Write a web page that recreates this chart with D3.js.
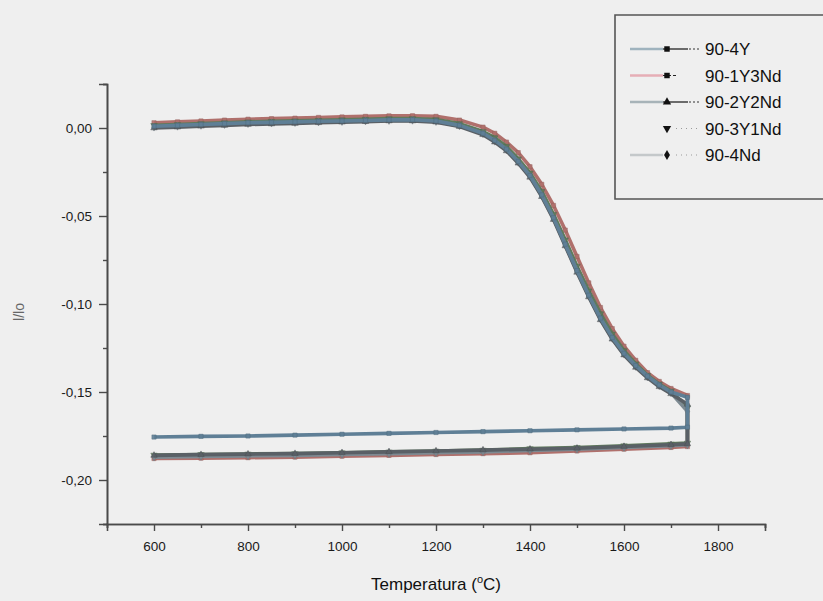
<!DOCTYPE html>
<html>
<head>
<meta charset="utf-8">
<script src="https://cdn.jsdelivr.net/npm/d3@7"></script>
<style>
  html, body { margin: 0; padding: 0; background: #efefef; }
  svg { display: block; }
  text { font-family: Arial, "Liberation Sans", sans-serif; }
</style>
</head>
<body>
<svg id="chart" width="823" height="601"></svg>
<script>
// Dilatometry: relative shrinkage l/lo vs temperature (heating then cooling)
const seriesNames = ["90-4Y", "90-1Y3Nd", "90-2Y2Nd", "90-3Y1Nd", "90-4Nd"];

// heating temperatures followed by cooling temperatures (°C)
const temps = [600, 650, 700, 750, 800, 850, 900, 950, 1000, 1050, 1100, 1150, 1200, 1250, 1300,
  1325, 1350, 1375, 1400, 1425, 1450, 1475, 1500, 1525, 1550, 1575, 1600, 1625, 1650, 1675, 1700, 1735,
  1735, 1700, 1600, 1500, 1400, 1300, 1200, 1100, 1000, 900, 800, 700, 600];

const values4Y = [0.001, 0.0015, 0.002, 0.0025, 0.003, 0.0032, 0.0035, 0.0038, 0.004, 0.0043, 0.0046, 0.0047, 0.0040, 0.0015, -0.003,
  -0.007, -0.012, -0.019, -0.027, -0.038, -0.051, -0.066, -0.081, -0.095, -0.108, -0.119, -0.128, -0.135, -0.141, -0.146, -0.150, -0.153,
  -0.170, -0.1705, -0.171, -0.1715, -0.172, -0.1725, -0.173, -0.1735, -0.174, -0.1745, -0.175, -0.1752, -0.1756];
const values1Y3Nd = [0.003, 0.0035, 0.004, 0.0045, 0.005, 0.0053, 0.0056, 0.006, 0.0063, 0.0066, 0.0069, 0.007, 0.0066, 0.0045, 0.0005,
  -0.003, -0.008, -0.014, -0.022, -0.032, -0.044, -0.058, -0.073, -0.088, -0.102, -0.114, -0.124, -0.132, -0.139, -0.144, -0.148, -0.152,
  -0.181, -0.1815, -0.1825, -0.1835, -0.1845, -0.185, -0.1855, -0.186, -0.1865, -0.187, -0.1873, -0.1876, -0.1878];
const values2Y2Nd = [0.0, 0.0005, 0.001, 0.0015, 0.002, 0.0023, 0.0026, 0.003, 0.0033, 0.0036, 0.004, 0.004, 0.0033, 0.0008, -0.0038,
  -0.008, -0.013, -0.020, -0.028, -0.039, -0.052, -0.067, -0.082, -0.096, -0.109, -0.120, -0.129, -0.136, -0.142, -0.147, -0.151, -0.157,
  -0.1795, -0.18, -0.181, -0.182, -0.1825, -0.183, -0.1835, -0.184, -0.1845, -0.185, -0.1853, -0.1856, -0.186];
const values3Y1Nd = [0.0015, 0.002, 0.0025, 0.003, 0.0035, 0.0038, 0.0041, 0.0044, 0.0047, 0.005, 0.0053, 0.0054, 0.0048, 0.0025, -0.002,
  -0.0055, -0.0105, -0.0175, -0.0255, -0.036, -0.049, -0.0635, -0.0785, -0.0925, -0.1055, -0.117, -0.1265, -0.134, -0.1405, -0.1455, -0.1495, -0.159,
  -0.179, -0.1795, -0.1805, -0.1815, -0.1822, -0.183, -0.1835, -0.184, -0.1845, -0.185, -0.1852, -0.1855, -0.1858];
const values4Nd = [0.0005, 0.001, 0.0015, 0.002, 0.0025, 0.0028, 0.0031, 0.0034, 0.0037, 0.004, 0.0043, 0.0044, 0.0037, 0.0012, -0.0033,
  -0.0075, -0.0125, -0.0195, -0.0275, -0.0385, -0.0515, -0.0665, -0.0815, -0.0955, -0.1085, -0.1195, -0.1285, -0.1355, -0.1415, -0.1465, -0.1505, -0.161,
  -0.180, -0.1805, -0.1815, -0.1825, -0.1832, -0.184, -0.1845, -0.185, -0.1855, -0.186, -0.1863, -0.1866, -0.187];

const seriesValues = [values4Y, values1Y3Nd, values2Y2Nd, values3Y1Nd, values4Nd];
const lineColors = ["#5f7f96", "#b0706c", "#5a6066", "#5f7a5c", "#7d8a92"];
const legendColors = ["#9fb3be", "#e6aeb6", "#a7b3b8", "none", "#c4c8ca"];
const symbolTypes = [d3.symbolSquare, d3.symbolSquare, d3.symbolTriangle, d3.symbolTriangle, d3.symbolDiamond];
const symbolRotate = [0, 0, 0, 180, 0];

const xMajorTicks = [600, 800, 1000, 1200, 1400, 1600, 1800];
const xMinorTicks = [500, 700, 900, 1100, 1300, 1500, 1700, 1900];
const yMajorTicks = [0.0, -0.05, -0.10, -0.15, -0.20];
const yMinorTicks = [0.025, -0.025, -0.075, -0.125, -0.175, -0.225];

const svg = d3.select("#chart");
const x = d3.scaleLinear().domain([500, 1900]).range([107, 765]);
const y = d3.scaleLinear().domain([-0.225, 0.025]).range([524, 84]);
const fmt = v => d3.format(".2f")(v).replace(".", ",").replace("−", "-");

// axes
const axisColor = "#4a4a4a";
const yAxisG = svg.append("g").attr("transform", "translate(107,0)");
yAxisG.call(d3.axisLeft(y).tickValues(yMajorTicks).tickSize(8).tickPadding(7).tickFormat(fmt));
yAxisG.append("g").call(d3.axisLeft(y).tickValues(yMinorTicks).tickSize(4).tickFormat(""));
const xAxisG = svg.append("g").attr("transform", "translate(0,524)");
xAxisG.call(d3.axisBottom(x).tickValues(xMajorTicks).tickSize(7).tickPadding(10).tickFormat(d3.format("d")));
xAxisG.append("g").call(d3.axisBottom(x).tickValues(xMinorTicks).tickSize(4).tickFormat(""));
svg.selectAll(".domain").attr("stroke", axisColor).attr("stroke-width", 1.6);
svg.selectAll(".tick line").attr("stroke", axisColor).attr("stroke-width", 1.4);
svg.selectAll(".tick text").attr("font-size", 13.5).attr("fill", "#1a1a1a")
  .attr("font-family", "Arial, 'Liberation Sans', sans-serif");

// axis titles
svg.append("text").attr("x", 436).attr("y", 590).attr("text-anchor", "middle")
  .attr("font-size", 17).attr("fill", "#111")
  .call(t => {
    t.append("tspan").text("Temperatura (");
    t.append("tspan").attr("font-size", 11).attr("dy", -7).text("o");
    t.append("tspan").attr("dy", 7).text("C)");
  });
svg.append("text").attr("transform", "translate(24,312) rotate(-90)")
  .attr("text-anchor", "middle").attr("font-size", 14).attr("fill", "#666").text("l/lo");

// curves
const line = d3.line().x((d, i) => x(temps[i])).y(d => y(d));
const drawOrder = [1, 3, 4, 2, 0];
drawOrder.forEach(s => {
  const vals = seriesValues[s];
  svg.append("path").datum(vals).attr("d", line)
    .attr("fill", "none").attr("stroke", lineColors[s]).attr("stroke-width", 3.6)
    .attr("stroke-linejoin", "round");
  svg.append("g").selectAll("path").data(vals).join("path")
    .attr("transform", (d, i) => `translate(${x(temps[i])},${y(d)}) rotate(${symbolRotate[s]})`)
    .attr("d", d3.symbol().type(symbolTypes[s]).size(18))
    .attr("fill", lineColors[s]).attr("stroke", d3.color(lineColors[s]).darker(0.5)).attr("stroke-width", 0.5)
    .attr("opacity", 0.9);
});

// legend
const lg = svg.append("g");
lg.append("path").attr("d", "M823,15 H615 V199 H823").attr("fill", "none")
  .attr("stroke", "#555").attr("stroke-width", 1.6);
seriesNames.forEach((name, i) => {
  const cy = 49 + i * 26.5;
  if (legendColors[i] !== "none") {
    lg.append("line").attr("x1", 630).attr("x2", 663).attr("y1", cy).attr("y2", cy)
      .attr("stroke", legendColors[i]).attr("stroke-width", 2.5);
  }
  if (i === 0 || i === 2) {
    lg.append("line").attr("x1", 663).attr("x2", 688).attr("y1", cy).attr("y2", cy)
      .attr("stroke", "#111").attr("stroke-width", 1.2);
    lg.append("line").attr("x1", 689).attr("x2", 699).attr("y1", cy).attr("y2", cy)
      .attr("stroke", "#333").attr("stroke-width", 1).attr("stroke-dasharray", "2,2");
  } else if (i === 1) {
    lg.append("line").attr("x1", 663).attr("x2", 677).attr("y1", cy).attr("y2", cy)
      .attr("stroke", "#222").attr("stroke-width", 1).attr("stroke-dasharray", "3,2");
  } else {
    lg.append("line").attr("x1", 676).attr("x2", 698).attr("y1", cy).attr("y2", cy)
      .attr("stroke", "#999").attr("stroke-width", 1).attr("stroke-dasharray", "1,4");
  }
  lg.append("path").attr("transform", `translate(667,${cy}) rotate(${symbolRotate[i]})`)
    .attr("d", d3.symbol().type(symbolTypes[i]).size(30)).attr("fill", "#111");
  lg.append("text").attr("x", 705).attr("y", cy + 6).attr("font-size", 17).attr("fill", "#111").text(name);
});
</script>
</body>
</html>
